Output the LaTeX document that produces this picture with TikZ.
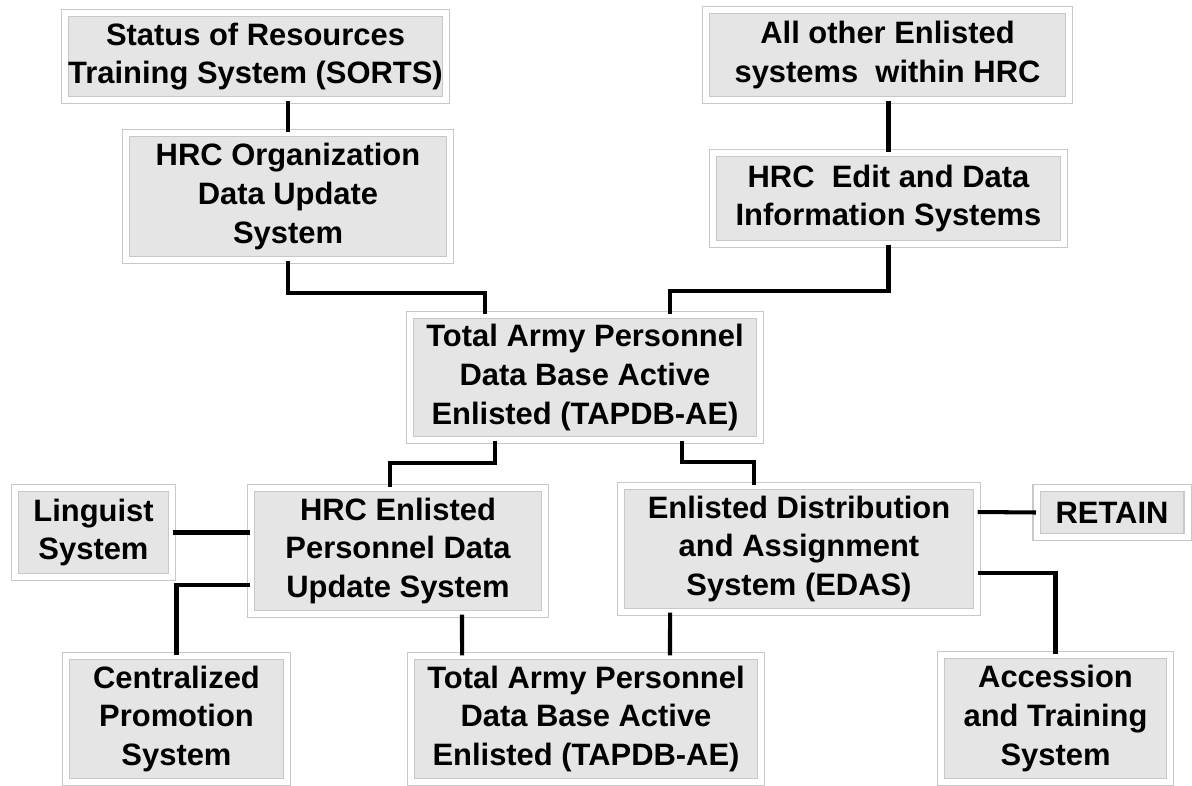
\documentclass[tikz,border=0pt]{standalone}
\usepackage{fontspec}
\setmainfont{Liberation Sans}
\usetikzlibrary{positioning,shadows}
\definecolor{boxgrey}{RGB}{229,229,229}
\definecolor{rimgrey}{RGB}{200,200,200}

\begin{document}
\begin{tikzpicture}[x=0.02cm,y=-0.02cm,
  every node/.style={font=\fontsize{17.6}{22}\selectfont\bfseries},
  sysbox/.style={draw=rimgrey,line width=0.6pt,double=white,double distance=3.4pt,
                 fill=boxgrey,align=center,inner sep=2pt,
                 drop shadow={opacity=0.2,shadow xshift=0.8pt,shadow yshift=-1.2pt}},
  sz/.style 2 args={minimum width=#1*0.02cm,minimum height=#2*0.02cm},
  link/.style={black,line width=2.3pt}]
\useasboundingbox (0,0) rectangle (1192,786);

\node[sysbox,sz={359}{87}] (sorts) at (255.5,56.5) {Status of Resources\\Training System (SORTS)};
\node[sysbox,sz={324}{127}] (hrcorg) at (288,196.5) {HRC Organization\\Data Update\\System};
\node[sysbox,sz={363}{90}] (allother) at (887.5,55) {All other Enlisted\\systems~ within HRC};
\node[sysbox,sz={351}{91}] (hrcedit) at (888.5,198.5) {HRC~ Edit and Data\\Information Systems};
\node[sysbox,sz={350}{125}] (tapdb) at (585,377.5) {Total Army Personnel\\Data Base Active\\Enlisted (TAPDB-AE)};
\node[sysbox,sz={157}{89}] (linguist) at (93.5,532.5) {Linguist\\System};
\node[sysbox,sz={294}{126}] (hrcenl) at (398,551) {HRC Enlisted\\Personnel Data\\Update System};
\node[sysbox,sz={356}{126}] (edas) at (799,549) {Enlisted Distribution\\and Assignment\\System (EDAS)};
\node[sysbox,sz={151}{49}] (retain) at (1112,512.5) {RETAIN};
\node[sysbox,sz={221}{126}] (central) at (176.5,719) {Centralized\\Promotion\\System};
\node[sysbox,sz={350}{126}] (tapdbb) at (586,719) {Total Army Personnel\\Data Base Active\\Enlisted (TAPDB-AE)};
\node[sysbox,sz={229}{127}] (access) at (1055.5,718.5) {Accession\\and Training\\System};

\draw[link] (hrcorg.north) -- (hrcorg.north |- sorts.south);
\draw[link] (hrcedit.north) -- (hrcedit.north |- allother.south);
\draw[link] (hrcorg.south) -- ++(0,32) -| ([xshift=-2cm]tapdb.north);
\draw[link] (hrcedit.south) -- ++(0,46) -| ([xshift=1.7cm]tapdb.north);
\draw[link] ([xshift=-1.8cm]tapdb.south) -- ++(0,22) -| ([xshift=-0.16cm]hrcenl.north);
\draw[link] ([xshift=1.94cm]tapdb.south) -- ++(0,21) -| ([xshift=-0.9cm]edas.north);
\draw[link] (linguist.east) -- (hrcenl.west |- linguist.east);
\draw[link] ([yshift=-0.68cm]hrcenl.west) -| (central.north);
\draw[link] ([xshift=1.28cm]hrcenl.south) -- ([xshift=-2.48cm]tapdbb.north);
\draw[link] ([xshift=-2.58cm]edas.south) -- ([xshift=1.68cm]tapdbb.north);
\draw[link] ([yshift=0.74cm]edas.east) -- (retain.west);
\draw[link] ([yshift=-0.48cm]edas.east) -| (access.north);
\end{tikzpicture}
\end{document}
